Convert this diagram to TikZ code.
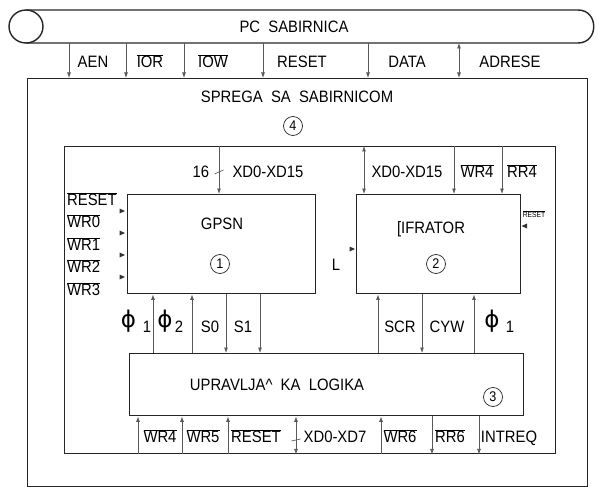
\documentclass[tikz,border=0pt]{standalone}
\usepackage{fontspec}
\setmainfont{Liberation Sans}[FakeStretch=0.9]
\newfontfamily\phifont{DejaVu Sans}
\usetikzlibrary{arrows.meta}
\newcommand\ovl[1]{$\overline{\hbox{#1}}$}
\begin{document}
\begin{tikzpicture}[x=1pt,y=-1pt,
  box/.style={draw=black!85, line width=1.4pt, inner sep=0pt, anchor=north west},
  sig/.style={draw=black!65, line width=0.75pt, -{Latex[length=5.5pt,width=4pt]}},
  dsig/.style={draw=black!65, line width=0.75pt, {Latex[length=5.5pt,width=4pt]}-{Latex[length=5.5pt,width=4pt]}},
  lbl/.style={font=\fontsize{16.5}{18}\selectfont, inner sep=0pt, anchor=base},
  phil/.style={font=\phifont\fontsize{23}{25}\selectfont, inner sep=0pt},
  num/.style={circle, draw=black!85, line width=0.7pt, minimum size=19pt, inner sep=0pt, font=\fontsize{14}{15}\selectfont},
  tri/.style={fill=black!80},
  tick/.style={draw=black!65, line width=0.7pt}]
\useasboundingbox (0,0) rectangle (598,487);
% bus pipe
\draw[line width=1.4pt, draw=black!85] (26,10) -- (578,10) .. controls (599,10) and (599,43) .. (578,43) -- (26,43);
\draw[line width=1.4pt, draw=black!85, fill=white] (26,26.5) ellipse [x radius=17, y radius=16.5];
\node[lbl] (bus) at (294,32.7) {PC\ \ SABIRNICA};
% boxes
\node[box, minimum width=560pt, minimum height=408pt] (outer) at (27,78) {};
\node[box, minimum width=491pt, minimum height=307pt] (inner) at (64,146) {};
\node[box, minimum width=188pt, minimum height=99pt] (gpsn) at (127,194) {};
\node[box, minimum width=164pt, minimum height=99pt] (sif) at (356,194) {};
\node[box, minimum width=394pt, minimum height=62pt] (logic) at (129,353) {};
% bus signals
\coordinate (bA) at (69,43);
\coordinate (bB) at (126,43);
\coordinate (bC) at (184,43);
\coordinate (bD) at (263,43);
\coordinate (bE) at (368,43);
\coordinate (bF) at (459,43);
\draw[sig] (bA) -- (bA |- outer.north);
\draw[sig] (bB) -- (bB |- outer.north);
\draw[sig] (bC) -- (bC |- outer.north);
\draw[sig] (bD) -- (bD |- outer.north);
\draw[sig] (bE) -- (bE |- outer.north);
\draw[dsig] (bF) -- (bF |- outer.north);
\node[lbl] (tAEN) at (93,67.7) {AEN};
\node[lbl] (tIOR) at (150,67.7) {\ovl{IOR}};
\node[lbl] (tIOW) at (213,67.7) {\ovl{IOW}};
\node[lbl] (tRES) at (302,67.7) {RESET};
\node[lbl] (tDATA) at (407,67.7) {DATA};
\node[lbl] (tADR) at (510,67.7) {ADRESE};
% interface
\node[lbl] (spr) at (297,102.7) {SPREGA\ \ SA\ \ SABIRNICOM};
\node[num] (n4) at (293,126) {4};
% GPSN
\coordinate (gx) at (219,0);
\draw[sig] (gx |- inner.north) -- (gx |- gpsn.north);
\draw[tick] (214.5,174) -- (223.5,170);
\node[lbl] (t16) at (201,177.7) {16};
\node[lbl] (txd1) at (268,177.7) {XD0-XD15};
\node[lbl] (tgpsn) at (222,229.7) {GPSN};
\node[num] (n1) at (220,264) {1};
\node[lbl, anchor=base west] (lR) at (67,205.7) {\ovl{RESET}};
\node[lbl, anchor=base west] (lW0) at (67,227.7) {\ovl{WR0}};
\node[lbl, anchor=base west] (lW1) at (67,250.7) {\ovl{WR1}};
\node[lbl, anchor=base west] (lW2) at (67,272.7) {\ovl{WR2}};
\node[lbl, anchor=base west] (lW3) at (67,295.7) {\ovl{WR3}};
\fill[tri] (119.5,208.5) -- (125,211) -- (119.5,213.5) -- cycle;
\fill[tri] (119.5,230.5) -- (125,233) -- (119.5,235.5) -- cycle;
\fill[tri] (119.5,252.5) -- (125,255) -- (119.5,257.5) -- cycle;
\fill[tri] (119.5,274.5) -- (125,277) -- (119.5,279.5) -- cycle;
% SIFRATOR
\coordinate (sx1) at (364,0);
\coordinate (sx2) at (454,0);
\coordinate (sx3) at (502,0);
\draw[dsig] (sx1 |- inner.north) -- (sx1 |- sif.north);
\draw[sig] (sx2 |- inner.north) -- (sx2 |- sif.north);
\draw[sig] (sx3 |- inner.north) -- (sx3 |- sif.north);
\node[lbl] (txd2) at (407,177.7) {XD0-XD15};
\node[lbl] (tWR4a) at (477,177.7) {\ovl{WR4}};
\node[lbl] (tRR4) at (522,177.7) {\ovl{RR4}};
\node[lbl] (tsif) at (431,233.7) {[IFRATOR};
\node[num] (n2) at (436,264) {2};
\node[inner sep=0pt, anchor=base, font=\fontsize{7.5}{8}\selectfont] (tRESs) at (534,217.7) {\ovl{RESET}};
\fill[tri] (527,223.5) -- (521.5,226) -- (527,228.5) -- cycle;
\node[lbl] (tL) at (336,270.7) {L};
\fill[tri] (349.5,246.5) -- (355,249) -- (349.5,251.5) -- cycle;
% logic <-> GPSN
\coordinate (g1) at (153,0);
\coordinate (g2) at (192,0);
\coordinate (g3) at (226,0);
\coordinate (g4) at (260,0);
\draw[sig] (g1 |- logic.north) -- (g1 |- gpsn.south);
\draw[sig] (g2 |- logic.north) -- (g2 |- gpsn.south);
\draw[sig] (g3 |- gpsn.south) -- (g3 |- logic.north);
\draw[sig] (g4 |- gpsn.south) -- (g4 |- logic.north);
\node[phil] (ph1) at (128.5,321) {ϕ};
\node[lbl] (ph1n) at (147,332.7) {1};
\node[phil] (ph2) at (165,321) {ϕ};
\node[lbl] (ph2n) at (179,332.7) {2};
\node[lbl] (tS0) at (210,332.7) {S0};
\node[lbl] (tS1) at (243,332.7) {S1};
% logic <-> SIFRATOR
\coordinate (h1) at (378,0);
\coordinate (h2) at (422,0);
\coordinate (h3) at (474,0);
\draw[sig] (h1 |- logic.north) -- (h1 |- sif.south);
\draw[sig] (h2 |- sif.south) -- (h2 |- logic.north);
\draw[sig] (h3 |- logic.north) -- (h3 |- sif.south);
\node[lbl] (tSCR) at (400,332.7) {SCR};
\node[lbl] (tCYW) at (447,332.7) {CYW};
\node[phil] (ph3) at (492,321) {ϕ};
\node[lbl] (ph3n) at (510,332.7) {1};
% logic
\node[lbl] (tlog) at (277,390.7) {UPRAVLJA\textasciicircum\ \ KA\ \ LOGIKA};
\node[num] (n3) at (493,397) {3};
% bottom signals
\coordinate (k1) at (138,0);
\coordinate (k2) at (182,0);
\coordinate (k3) at (228,0);
\coordinate (k4) at (296,0);
\coordinate (k5) at (381,0);
\coordinate (k6) at (432,0);
\coordinate (k7) at (479,0);
\draw[sig] (k1 |- inner.south) -- (k1 |- logic.south);
\draw[sig] (k2 |- inner.south) -- (k2 |- logic.south);
\draw[sig] (k3 |- inner.south) -- (k3 |- logic.south);
\draw[dsig] (k4 |- inner.south) -- (k4 |- logic.south);
\draw[sig] (k5 |- inner.south) -- (k5 |- logic.south);
\draw[sig] (k6 |- logic.south) -- (k6 |- inner.south);
\draw[sig] (k7 |- logic.south) -- (k7 |- inner.south);
\draw[tick] (291.5,441) -- (300.5,439);
\node[lbl] (bWR4) at (160,442.7) {\ovl{WR4}};
\node[lbl] (bWR5) at (203,442.7) {\ovl{WR5}};
\node[lbl] (bRES) at (256,442.7) {\ovl{RESET}};
\node[lbl] (bXD) at (335,442.7) {XD0-XD7};
\node[lbl] (bWR6) at (400,442.7) {\ovl{WR6}};
\node[lbl] (bRR6) at (450,442.7) {\ovl{RR6}};
\node[lbl] (bINT) at (509,442.7) {INTREQ};
\end{tikzpicture}
\end{document}
